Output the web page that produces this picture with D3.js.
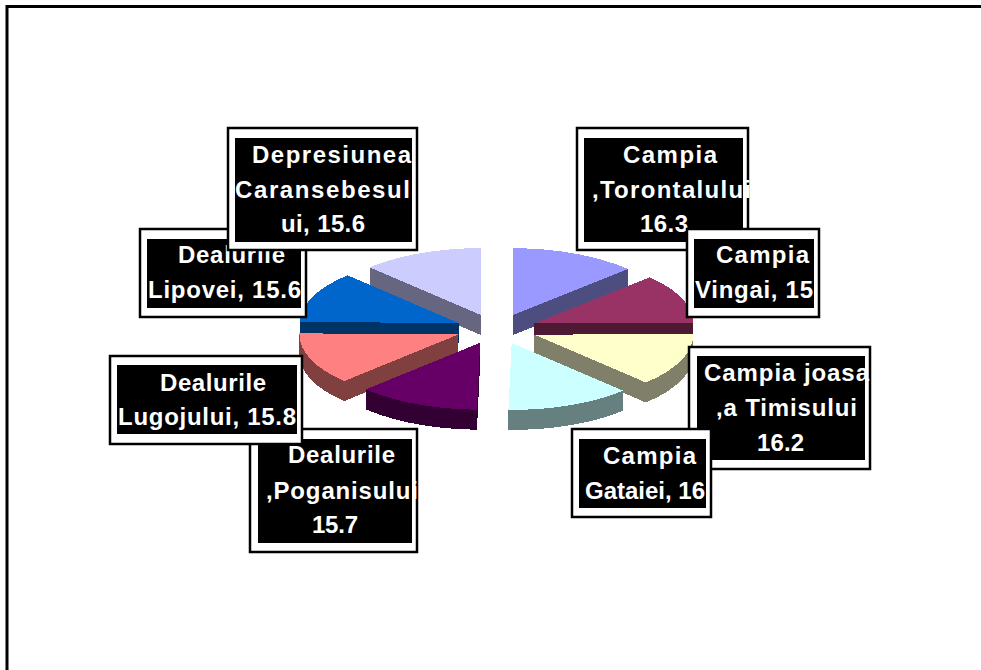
<!DOCTYPE html>
<html>
<head>
<meta charset="utf-8">
<script src="https://cdn.jsdelivr.net/npm/d3@7"></script>
<style>
  html, body { margin: 0; padding: 0; background: #fff; }
  svg { display: block; }
  text { font-family: "Liberation Sans", Arial, sans-serif; font-weight: bold; font-size: 24px; fill: #fff; }
</style>
</head>
<body>
<div id="chart-area"></div>
<script>
let names = ["Campia Torontalului", "Campia Vingai", "Campia joasa a Timisului", "Campia Gataiei",
    "Dealurile Poganisului", "Dealurile Lugojului", "Dealurile Lipovei", "Depresiunea Caransebesului"];
let values = [16.3, 15, 16.2, 16, 15.7, 15.8, 15.6, 15.6];
let topColors = ["#9999ff", "#993366", "#ffffcc", "#ccffff", "#660066", "#ff8080", "#0066cc", "#ccccff"];
let sideColors = ["#4d4d80", "#4d1933", "#80806a", "#668080", "#330033", "#804040", "#003366", "#666680"];

// order the slices are painted in, back ones first
let paintOrder = [7, 0, 6, 1, 5, 2, 4, 3];

// label layout: box, inner black box, and each line as [text, x start, x end, baseline]
let labelBoxes = [
    {outer: [577, 128, 748, 250], inner: [584, 138, 743, 242], lines: [["Campia", 623, 717, 163], [",Torontalului", 592, 751, 198], ["16.3", 640, 688, 232]]},
    {outer: [687, 229, 819, 317], inner: [694, 239, 814, 308], lines: [["Campia", 716, 809, 263], ["Vingai, 15", 695, 813, 298]]},
    {outer: [689, 347, 870, 469], inner: [697, 356, 865, 460], lines: [["Campia joasa", 704, 869, 381], [",a Timisului", 716, 857, 416], ["16.2", 757, 804, 451]]},
    {outer: [572, 429, 711, 517], inner: [579, 439, 706, 508], lines: [["Campia", 603, 696, 464], ["Gataiei, 16", 585, 705, 499]]},
    {outer: [250, 429, 417, 552], inner: [258, 439, 412, 543], lines: [["Dealurile", 288, 395, 463], [",Poganisului", 266, 418, 499], ["15.7", 312, 358, 533]]},
    {outer: [110, 356, 302, 444], inner: [117, 365, 297, 434], lines: [["Dealurile", 160, 266, 391], ["Lugojului, 15.8", 118, 296, 425]]},
    {outer: [140, 229, 306, 317], inner: [147, 239, 301, 308], lines: [["Dealurile", 178, 285, 263], ["Lipovei, 15.6", 148, 301, 298]]},
    {outer: [228, 128, 417, 250], inner: [235, 138, 412, 242], lines: [["Depresiunea", 252, 411, 163], ["Caransebesul", 235, 410, 198], ["ui, 15.6", 281, 365, 232]]}
];

let width = 981, height = 670;
let center = {x: 496.5, y: 329};
let radius = {x: 159, y: 67};
let explode = {x: 41, y: 15};
let depth = 20;

let svg = d3.select("#chart-area")
    .append("svg")
    .attr("width", width)
    .attr("height", height);

// chart frame, only top and left are visible
svg.append("path")
    .attr("d", d3.line()([[7, height], [7, 6.5], [width, 6.5]]))
    .attr("fill", "none")
    .attr("stroke", "#000")
    .attr("stroke-width", 3);

let pie = d3.pie().sort(null).value(d => d);
let slices = pie(values);
let line = d3.line();

function outline(s) {
    let mid = (s.startAngle + s.endAngle) / 2;
    let ox = center.x + explode.x * Math.sin(mid);
    let oy = center.y - explode.y * Math.cos(mid);
    let pts = [[ox, oy]];
    let steps = Math.round((s.endAngle - s.startAngle) / (Math.PI / 30));
    d3.range(steps + 1).forEach(i => {
        let a = s.startAngle + (s.endAngle - s.startAngle) * i / steps;
        pts.push([ox + radius.x * Math.sin(a), oy - radius.y * Math.cos(a)]);
    });
    return pts;
}

let pieGroup = svg.append("g").attr("shape-rendering", "crispEdges");

paintOrder.forEach(idx => {
    let pts = outline(slices[idx]);
    let g = pieGroup.append("g").attr("class", "slice");
    // walls first, one quad per outline segment
    pts.forEach((p, i) => {
        let q = pts[(i + 1) % pts.length];
        g.append("path")
            .attr("d", line([p, q, [q[0], q[1] + depth], [p[0], p[1] + depth]]) + "Z")
            .attr("fill", sideColors[idx]);
    });
    g.append("path")
        .attr("d", line(pts) + "Z")
        .attr("fill", topColors[idx]);
});

// labels, in the order they overlap
let labels = svg.append("g");
labelBoxes.forEach(b => {
    let g = labels.append("g").attr("class", "label");
    g.append("rect")
        .attr("x", b.outer[0]).attr("y", b.outer[1])
        .attr("width", b.outer[2] - b.outer[0]).attr("height", b.outer[3] - b.outer[1])
        .attr("fill", "#fff").attr("stroke", "#000").attr("stroke-width", 2.5);
    g.append("rect")
        .attr("x", b.inner[0]).attr("y", b.inner[1])
        .attr("width", b.inner[2] - b.inner[0]).attr("height", b.inner[3] - b.inner[1])
        .attr("fill", "#000");
    b.lines.forEach(l => {
        g.append("text")
            .attr("x", l[1]).attr("y", l[3])
            .attr("textLength", l[2] - l[1])
            .attr("lengthAdjust", "spacing")
            .text(l[0]);
    });
});
</script>
</body>
</html>
